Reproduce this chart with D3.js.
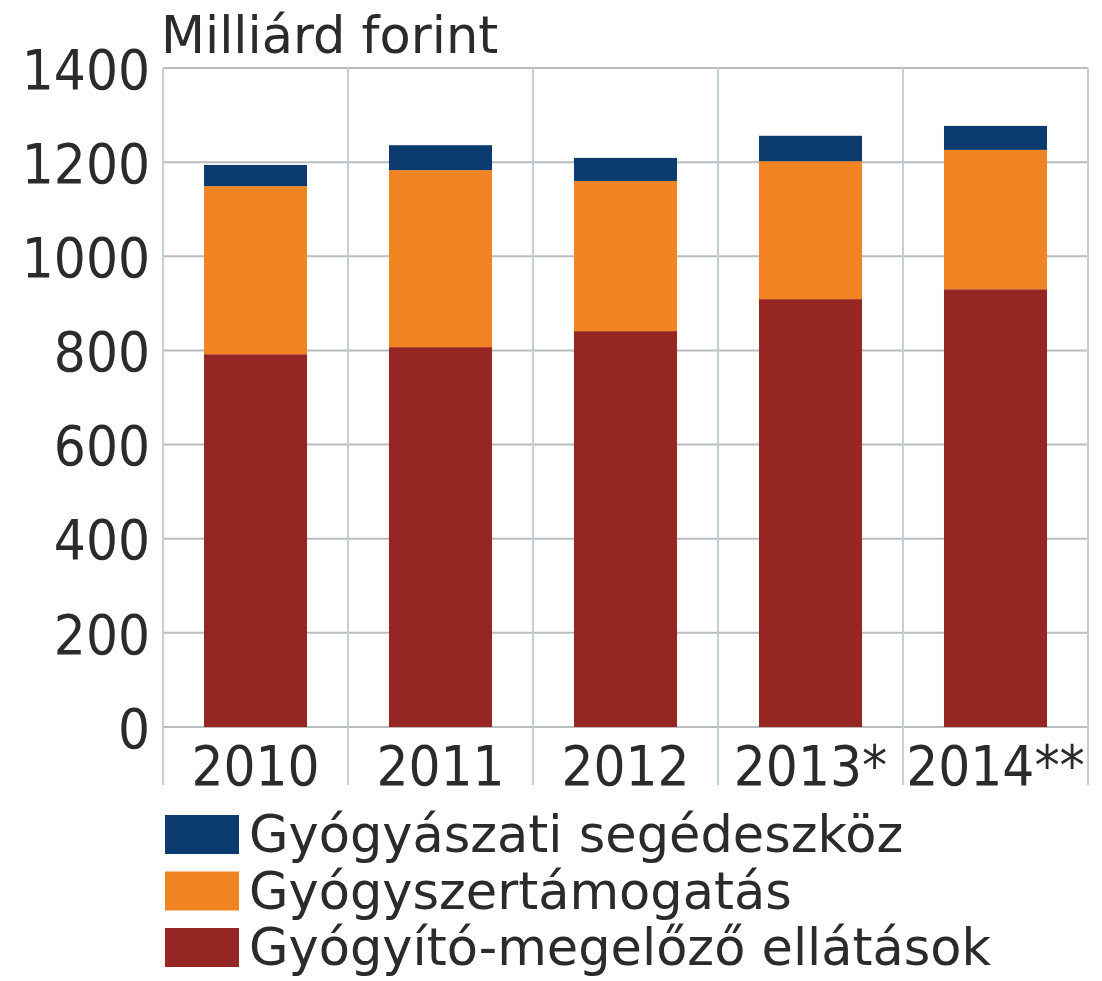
<!DOCTYPE html>
<html>
<head>
<meta charset="utf-8">
<script src="https://cdn.jsdelivr.net/npm/d3@7"></script>
<style>
  html, body { margin: 0; padding: 0; background: #fff; }
  svg text {
    font-family: 'DejaVu Sans', sans-serif;
    fill: #2b2b2b;
  }
  svg text.narrow {
    font-family: 'DejaVu Sans Condensed', 'DejaVu Sans', sans-serif;
    font-stretch: condensed;
  }
</style>
</head>
<body>
<svg id="chart" width="1102" height="981"></svg>
<script>
var years = ['2010', '2011', '2012', '2013*', '2014**']
var curative = [792, 807, 841, 909, 930] // Gyógyító-megelőző ellátások
var drugs = [357, 376, 319, 293, 296] // Gyógyszertámogatás
var devices = [45, 53, 49, 54, 51] // Gyógyászati segédeszköz
var yTicks = [0, 200, 400, 600, 800, 1000, 1200, 1400]

var seriesNames = [
  'Gyógyító-megelőző ellátások',
  'Gyógyszertámogatás',
  'Gyógyászati segédeszköz',
]
var seriesColors = ['#952624', '#f28424', '#0c3c6f']

var svg = d3.select('#chart'),
  margin = { top: 68, right: 14, bottom: 254, left: 163 },
  width = +svg.attr('width') - margin.left - margin.right,
  height = +svg.attr('height') - margin.top - margin.bottom

var x = d3.scaleBand().domain(years).range([0, width]).paddingInner(0.443).paddingOuter(0.2215)
var xBand = d3.scaleBand().domain(years).range([0, width])
var y = d3.scaleLinear().domain([0, 1400]).range([height, 0])

var g = svg
  .append('g')
  .attr('transform', 'translate(' + margin.left + ',' + margin.top + ')')

// horizontal grid
g.append('g')
  .selectAll('line')
  .data(yTicks)
  .enter()
  .append('line')
  .attr('x1', 0)
  .attr('x2', width)
  .attr('y1', function (d) {
    return y(d)
  })
  .attr('y2', function (d) {
    return y(d)
  })
  .attr('stroke', '#b9bcbf')
  .attr('stroke-width', 2)

// vertical separators, they run down between the year labels
var seps = years.map(function (d) {
  return xBand(d)
})
seps.push(width)
g.append('g')
  .selectAll('line')
  .data(seps)
  .enter()
  .append('line')
  .attr('x1', function (d) {
    return d
  })
  .attr('x2', function (d) {
    return d
  })
  .attr('y1', 0)
  .attr('y2', height + 58)
  .attr('stroke', '#c3cfd8')
  .attr('stroke-width', 2)

// stacked bars
var table = years.map(function (yr, i) {
  return { year: yr, s0: curative[i], s1: drugs[i], s2: devices[i] }
})
var stack = d3.stack().keys(['s0', 's1', 's2'])(table)

g.append('g')
  .selectAll('g')
  .data(stack)
  .enter()
  .append('g')
  .attr('fill', function (d, i) {
    return seriesColors[i]
  })
  .selectAll('rect')
  .data(function (d) {
    return d
  })
  .enter()
  .append('rect')
  .attr('x', function (d) {
    return x(d.data.year)
  })
  .attr('y', function (d) {
    return y(d[1])
  })
  .attr('width', x.bandwidth())
  .attr('height', function (d) {
    return Math.max(0, y(d[0]) - y(d[1]))
  })

// y labels
var yAxis = g
  .append('g')
  .call(
    d3
      .axisLeft(y)
      .tickValues(yTicks)
      .tickFormat(d3.format('d'))
      .tickSize(0)
      .tickPadding(13)
  )
yAxis.select('.domain').remove()
yAxis
  .selectAll('text')
  .attr('class', 'narrow')
  .attr('font-size', 56)
  .attr('dy', '0.36em')

// x labels
var xAxis = g
  .append('g')
  .attr('transform', 'translate(0,' + height + ')')
  .call(d3.axisBottom(xBand).tickSize(0).tickPadding(0))
xAxis.select('.domain').remove()
xAxis
  .selectAll('text')
  .attr('class', 'narrow')
  .attr('font-size', 56)
  .attr('dy', null)
  .attr('y', 58)

// unit title
svg
  .append('text')
  .attr('x', 161)
  .attr('y', 53)
  .attr('font-size', 51)
  .text('Milliárd forint')

// legend, top row is the top segment
var legendItems = [2, 1, 0]
var legend = svg
  .append('g')
  .selectAll('g')
  .data(legendItems)
  .enter()
  .append('g')
  .attr('transform', function (d, i) {
    return 'translate(165,' + (815 + i * 56.5) + ')'
  })

legend
  .append('rect')
  .attr('width', 74)
  .attr('height', 39)
  .attr('fill', function (d) {
    return seriesColors[d]
  })

legend
  .append('text')
  .attr('x', 84)
  .attr('y', 37)
  .attr('font-size', 51)
  .text(function (d) {
    return seriesNames[d]
  })
</script>
</body>
</html>
